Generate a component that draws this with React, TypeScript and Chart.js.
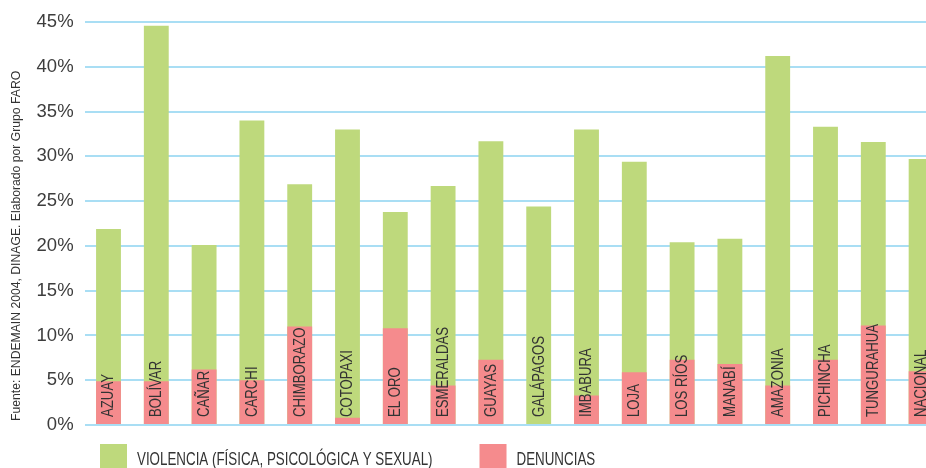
import React, { useEffect, useRef } from "react";
import { Chart, registerables } from "chart.js";

Chart.register(...registerables);

const categories = [
  "AZUAY", "BOLÍVAR", "CAÑAR", "CARCHI", "CHIMBORAZO", "COTOPAXI", "EL ORO",
  "ESMERALDAS", "GUAYAS", "GALÁPAGOS", "IMBABURA", "LOJA", "LOS RÍOS",
  "MANABÍ", "AMAZONIA", "PICHINCHA", "TUNGURAHUA", "NACIONAL",
];
const violencia = [21.9, 44.6, 20.1, 34.0, 26.9, 33.0, 23.8, 26.7, 31.7, 24.4, 33.0, 29.4, 20.4, 20.8, 41.2, 33.3, 31.6, 29.7];
const denuncias = [4.9, 4.9, 6.2, 5.0, 11.0, 0.8, 10.8, 4.4, 7.3, 0, 3.3, 5.9, 7.3, 6.8, 4.4, 7.3, 11.1, 6.0];
const seriesLabels = ["VIOLENCIA (FÍSICA, PSICOLÓGICA Y SEXUAL)", "DENUNCIAS"];
const yMin = 0;
const yMax = 45;
const yStep = 5;
const sourceText = "Fuente: ENDEMAIN 2004, DINAGE. Elaborado por Grupo FARO";

const GREEN = "#bed97c";
const PINK = "#f58b8d";
const GRID = "#a9def4";
const TEXT = "#333333";
const SANS = '"Liberation Sans", Arial, sans-serif';

const overlayPlugin = {
  id: "overlay",
  afterDatasetsDraw(chart: any) {
    const ctx = chart.ctx as CanvasRenderingContext2D;
    const meta = chart.getDatasetMeta(0);
    const base = chart.scales.y.getPixelForValue(0);
    ctx.save();
    // category labels inside bars (condensed)
    ctx.fillStyle = TEXT;
    ctx.font = `16.3px ${SANS}`;
    ctx.textAlign = "left";
    ctx.textBaseline = "middle";
    meta.data.forEach((el: any, i: number) => {
      ctx.save();
      ctx.translate(el.x + 0.5, base - 8);
      ctx.rotate(-Math.PI / 2);
      ctx.scale(0.81, 1);
      ctx.fillText(categories[i], 0, 0);
      ctx.restore();
    });
    // legend
    const colors = [GREEN, PINK];
    const sx = 0.715;
    ctx.font = `18.7px ${SANS}`;
    let x = 100;
    seriesLabels.forEach((lab, i) => {
      ctx.fillStyle = colors[i];
      ctx.fillRect(x, 444, 27, 26);
      ctx.fillStyle = TEXT;
      ctx.save();
      ctx.translate(x + 37, 459.5);
      ctx.scale(sx, 1);
      ctx.fillText(lab, 0, 0);
      ctx.restore();
      x = x + 37 + ctx.measureText(lab).width * sx + 47;
    });
    // source note
    ctx.font = `12.2px ${SANS}`;
    ctx.fillStyle = TEXT;
    ctx.translate(16.5, 421);
    ctx.rotate(-Math.PI / 2);
    ctx.fillText(sourceText, 0, 0);
    ctx.restore();
  },
};

export default function App() {
  const ref = useRef<HTMLCanvasElement | null>(null);
  useEffect(() => {
    if (!ref.current) return;
    const chart = new Chart(ref.current, {
      type: "bar",
      data: {
        labels: categories,
        datasets: [
          {
            label: seriesLabels[0],
            data: violencia,
            backgroundColor: GREEN,
            order: 1,
            barPercentage: 0.52,
            categoryPercentage: 1,
          },
          {
            label: seriesLabels[1],
            data: denuncias,
            backgroundColor: PINK,
            order: 0,
            barPercentage: 0.52,
            categoryPercentage: 1,
          },
        ],
      },
      options: {
        animation: false,
        responsive: true,
        maintainAspectRatio: false,
        layout: { padding: { top: 19, bottom: 43, left: 0, right: 0 } },
        plugins: { legend: { display: false }, tooltip: { enabled: false } },
        scales: {
          x: { stacked: true, display: false },
          y: {
            stacked: false,
            min: yMin,
            max: yMax,
            afterFit: (scale: any) => {
              scale.width = 84.6;
            },
            ticks: {
              stepSize: yStep,
              padding: 11,
              color: "#3d3d3d",
              font: { family: SANS, size: 18.5 },
              callback: (v: any) => `${v}%`,
            },
            grid: { color: GRID, lineWidth: 2, drawTicks: false },
            border: { display: false },
          },
        },
      },
      plugins: [overlayPlugin],
    });
    return () => chart.destroy();
  }, []);
  return (
    <div style={{ position: "fixed", left: 0, top: 0, width: 926, height: 468, overflow: "hidden", background: "#fff" }}>
      <div style={{ position: "relative", width: 945, height: 468 }}>
        <canvas ref={ref} />
      </div>
    </div>
  );
}
